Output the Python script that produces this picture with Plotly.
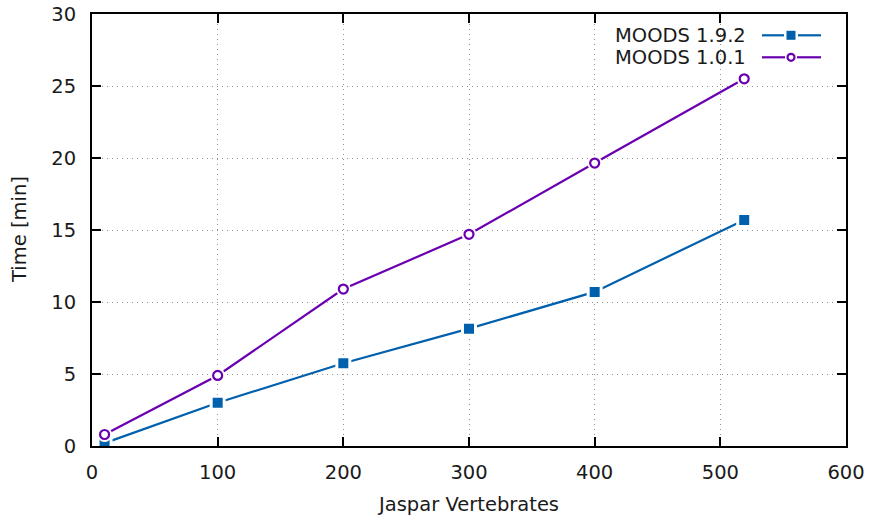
import plotly.graph_objects as go

x_192 = [10, 100, 200, 300, 400, 519]
y_192 = [0.2, 3.0, 5.75, 8.15, 10.7, 15.7]
x_101 = [10, 100, 200, 300, 400, 519]
y_101 = [0.8, 4.9, 10.9, 14.7, 19.65, 25.5]
names = ["MOODS 1.9.2", "MOODS 1.0.1"]
colors = ["#0060ad", "#6a00b0"]
x_ticks = [0, 100, 200, 300, 400, 500, 600]
y_ticks = [0, 5, 10, 15, 20, 25, 30]

FONT = "DejaVu Sans"
FS = 19.5
TXT = "#1a1a1a"
fig = go.Figure()

# MOODS 1.9.2
fig.add_trace(go.Scatter(x=x_192, y=y_192, mode="lines",
                         line=dict(color=colors[0], width=2.2), showlegend=False))
fig.add_trace(go.Scatter(x=x_192, y=y_192, mode="markers",
                         marker=dict(symbol="square", size=13, color=colors[0],
                                     line=dict(color="white", width=3)),
                         showlegend=False))
# MOODS 1.0.1
fig.add_trace(go.Scatter(x=x_101, y=y_101, mode="lines",
                         line=dict(color=colors[1], width=2.2), showlegend=False))
fig.add_trace(go.Scatter(x=x_101, y=y_101, mode="markers",
                         marker=dict(symbol="circle", size=15, color="white",
                                     line=dict(width=0)),
                         showlegend=False))
fig.add_trace(go.Scatter(x=x_101, y=y_101, mode="markers",
                         marker=dict(symbol="circle-open", size=9, color=colors[1],
                                     line=dict(color=colors[1], width=2.2)),
                         showlegend=False))

W, H = 870, 515
L, R, T, B = 92, 24, 14, 69
pw, ph = W - L - R, H - T - B

def px(xp):
    return (xp - L) / pw

def py(yp):
    return (H - B - yp) / ph

shapes = []
annotations = []
rows = [35.3, 57.3]
for i, (nm, c) in enumerate(zip(names, colors)):
    yy = py(rows[i])
    annotations.append(dict(x=px(748), y=yy, xref="paper", yref="paper", text=nm,
                            showarrow=False, xanchor="right", yanchor="middle",
                            font=dict(family=FONT, size=FS, color=TXT)))
    if i == 0:
        shapes.append(dict(type="line", xref="paper", yref="paper", x0=px(762), x1=px(784),
                           y0=yy, y1=yy, line=dict(color=c, width=2.2)))
        shapes.append(dict(type="line", xref="paper", yref="paper", x0=px(798), x1=px(821),
                           y0=yy, y1=yy, line=dict(color=c, width=2.2)))
        shapes.append(dict(type="rect", xref="paper", yref="paper", x0=px(786.5), x1=px(795.5),
                           y0=py(rows[i] + 4.5), y1=py(rows[i] - 4.5),
                           fillcolor=c, line=dict(width=0)))
    else:
        shapes.append(dict(type="line", xref="paper", yref="paper", x0=px(762), x1=px(785),
                           y0=yy, y1=yy, line=dict(color=c, width=2.2)))
        shapes.append(dict(type="line", xref="paper", yref="paper", x0=px(797), x1=px(821),
                           y0=yy, y1=yy, line=dict(color=c, width=2.2)))
        shapes.append(dict(type="circle", xref="paper", yref="paper", x0=px(787.5), x1=px(794.5),
                           y0=py(rows[i] + 3.5), y1=py(rows[i] - 3.5),
                           line=dict(color=c, width=2.2)))

# axis titles as paper annotations for exact placement
annotations.append(dict(x=px(468), y=py(505), xref="paper", yref="paper", text="Jaspar Vertebrates",
                        showarrow=False, xanchor="center", yanchor="middle",
                        font=dict(family=FONT, size=FS, color=TXT)))
annotations.append(dict(x=px(19), y=py(230), xref="paper", yref="paper", text="Time [min]",
                        showarrow=False, xanchor="center", yanchor="middle", textangle=-90,
                        font=dict(family=FONT, size=FS, color=TXT)))

fig.update_layout(
    width=W, height=H,
    margin=dict(l=L, r=R, t=T, b=B, pad=0, autoexpand=False),
    paper_bgcolor="white", plot_bgcolor="white",
    font=dict(family=FONT, size=FS, color=TXT),
    shapes=shapes, annotations=annotations, showlegend=False,
)
axis_common = dict(showline=True, linecolor="black", linewidth=2, mirror="allticks",
                   ticks="inside", ticklen=9, tickwidth=1.5, tickcolor="black",
                   showgrid=True, gridcolor="#909090", griddash="1px,4px", gridwidth=1,
                   zeroline=False, automargin=False,
                   tickfont=dict(family=FONT, size=FS, color=TXT))
fig.update_xaxes(range=[0, 600], tickvals=x_ticks, ticktext=[str(v) for v in x_ticks],
                 ticklabelstandoff=8, **axis_common)
fig.update_yaxes(range=[0, 30], tickvals=y_ticks, ticktext=[str(v) for v in y_ticks],
                 ticklabelstandoff=10, **axis_common)

fig.write_html("out.html")
